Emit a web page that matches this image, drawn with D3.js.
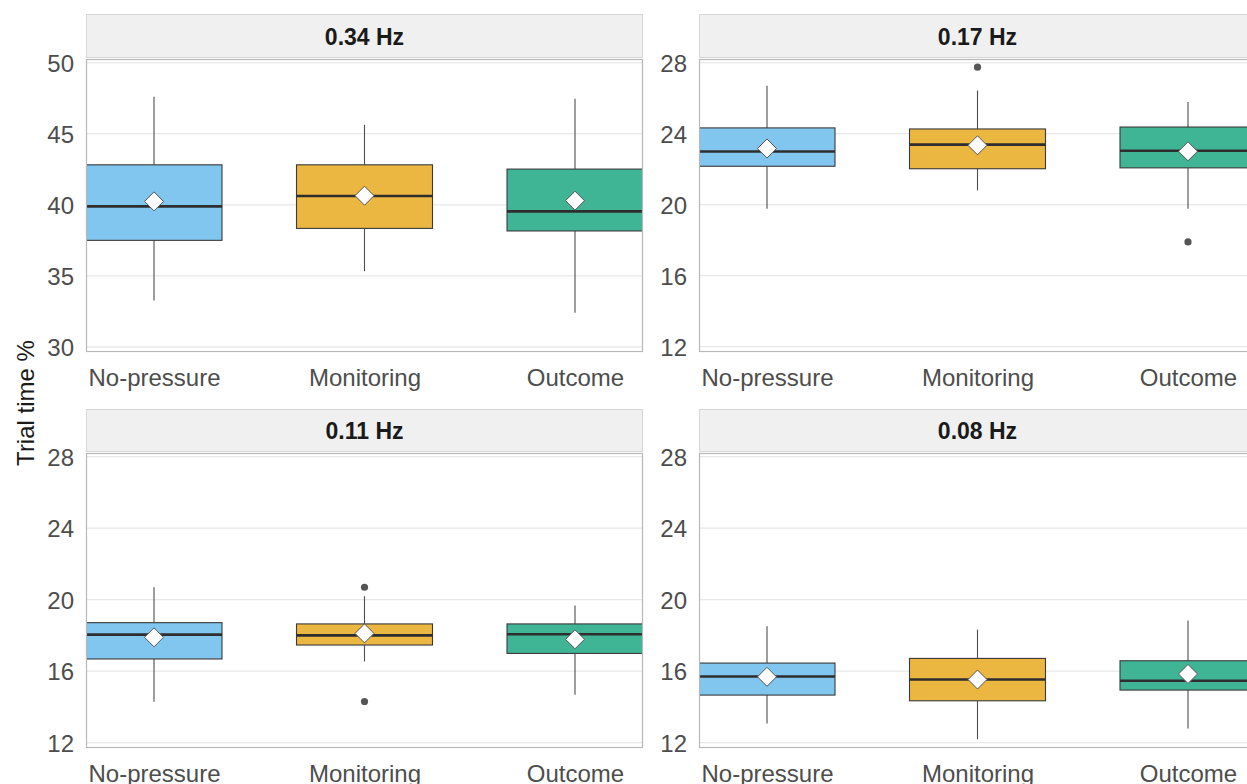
<!DOCTYPE html>
<html>
<head>
<meta charset="utf-8">
<script src="https://cdn.jsdelivr.net/npm/d3@7"></script>
<style>
  html, body { margin: 0; padding: 0; background: #fff; }
  svg { display: block; font-family: "Liberation Sans", Arial, sans-serif; }
</style>
</head>
<body>
<svg id="chart" width="1247" height="784"></svg>
<script>
// Facets (frequency bands) and conditions
const panels = ["0.34 Hz", "0.17 Hz", "0.11 Hz", "0.08 Hz"];
const categories = ["No-pressure", "Monitoring", "Outcome"];
const colors = ["#80C6EE", "#ECB740", "#40B595"];

// Box statistics per panel, one value per condition
const whiskerLow  = [[33.27, 35.33, 32.41], [19.77, 20.80, 19.77], [14.28, 16.54, 14.68], [13.07, 12.19, 12.79]];
const q1          = [[37.50, 38.34, 38.16], [22.16, 22.02, 22.07], [16.68, 17.46, 16.99], [14.66, 14.34, 14.94]];
const median      = [[39.89, 40.62, 39.54], [22.99, 23.38, 23.03], [18.04, 18.00, 18.06], [15.70, 15.53, 15.46]];
const q3          = [[42.81, 42.81, 42.51], [24.32, 24.26, 24.37], [18.71, 18.64, 18.64], [16.45, 16.71, 16.58]];
const whiskerHigh = [[47.60, 45.62, 47.46], [26.69, 26.43, 25.78], [20.69, 20.19, 19.67], [18.51, 18.32, 18.83]];
const means       = [[40.24, 40.64, 40.29], [23.16, 23.34, 23.00], [17.89, 18.11, 17.78], [15.68, 15.53, 15.84]];
const outliers    = [[[], [], []], [[], [27.74], [17.90]], [[], [20.69, 14.30], []], [[], [], []]];

// Axis ticks and limits
const ticksWide = [30, 35, 40, 45, 50];
const ticksNarrow = [12, 16, 20, 24, 28];
const yLimits = [[29.65, 50.25], [11.7, 28.2], [11.7, 28.2], [11.7, 28.2]];
const yTicks = [ticksWide, ticksNarrow, ticksNarrow, ticksNarrow];
const yTitle = "Trial time %";

const svg = d3.select("#chart");

// Facet grid layout
const colX = [86, 699];
const panelW = 557;
const rows = [
  { stripTop: 14, stripH: 44, top: 59, h: 293 },
  { stripTop: 409, stripH: 43, top: 453, h: 295 }
];
const boxW = 136;

panels.forEach((name, p) => {
  const r = rows[Math.floor(p / 2)];
  const x0 = colX[p % 2];
  const g = svg.append("g");

  const x = d3.scalePoint().domain(categories)
    .range([x0 + boxW / 2, x0 + panelW - boxW / 2]);
  const y = d3.scaleLinear().domain(yLimits[p]).range([r.top + r.h, r.top]);

  // strip
  g.append("rect")
    .attr("x", x0 + 0.5).attr("y", r.stripTop + 0.5)
    .attr("width", panelW - 1).attr("height", r.stripH - 1)
    .attr("fill", "#F0F0F0").attr("stroke", "#D6D6D6").attr("stroke-width", 1);
  g.append("text")
    .attr("x", x0 + panelW / 2).attr("y", r.stripTop + r.stripH / 2 + 8.5)
    .attr("text-anchor", "middle")
    .attr("font-size", 23).attr("font-weight", "bold").attr("fill", "#1A1A1A")
    .text(name);

  // panel background
  g.append("rect")
    .attr("x", x0).attr("y", r.top).attr("width", panelW).attr("height", r.h)
    .attr("fill", "#fff");

  // gridlines
  g.append("g").selectAll("line").data(yTicks[p]).join("line")
    .attr("x1", x0).attr("x2", x0 + panelW)
    .attr("y1", d => y(d)).attr("y2", d => y(d))
    .attr("stroke", "#E8E8E8").attr("stroke-width", 1.3);

  // y axis labels
  const yAxis = d3.axisLeft(y).tickValues(yTicks[p]).tickSize(0).tickPadding(12);
  const ya = g.append("g").attr("transform", `translate(${x0},0)`).call(yAxis);
  ya.select(".domain").remove();
  ya.selectAll("text").attr("font-size", 24).attr("fill", "#4D4D4D")
    .attr("font-family", "Liberation Sans, Arial, sans-serif").attr("dy", "0.36em");

  // x axis labels
  const xAxis = d3.axisBottom(x).tickSize(0).tickPadding(17);
  const xa = g.append("g").attr("transform", `translate(0,${r.top + r.h})`).call(xAxis);
  xa.select(".domain").remove();
  xa.selectAll("text").attr("font-size", 24).attr("fill", "#4D4D4D")
    .attr("font-family", "Liberation Sans, Arial, sans-serif").attr("dy", "0.71em");

  // boxes
  const clip = "clip-" + p;
  svg.append("clipPath").attr("id", clip).append("rect")
    .attr("x", x0).attr("y", r.top).attr("width", panelW).attr("height", r.h);
  const marks = g.append("g").attr("clip-path", `url(#${clip})`);

  categories.forEach((c, i) => {
    const cx = x(c);
    const b = marks.append("g");
    b.append("line").attr("x1", cx).attr("x2", cx)
      .attr("y1", y(whiskerHigh[p][i])).attr("y2", y(q3[p][i]))
      .attr("stroke", "#4D4D4D").attr("stroke-width", 1.1);
    b.append("line").attr("x1", cx).attr("x2", cx)
      .attr("y1", y(q1[p][i])).attr("y2", y(whiskerLow[p][i]))
      .attr("stroke", "#4D4D4D").attr("stroke-width", 1.1);
    b.append("rect")
      .attr("x", cx - boxW / 2).attr("width", boxW)
      .attr("y", y(q3[p][i])).attr("height", y(q1[p][i]) - y(q3[p][i]))
      .attr("fill", colors[i]).attr("stroke", "#3A3A3A").attr("stroke-width", 1.1);
    b.append("line").attr("x1", cx - boxW / 2).attr("x2", cx + boxW / 2)
      .attr("y1", y(median[p][i])).attr("y2", y(median[p][i]))
      .attr("stroke", "#2E2E2E").attr("stroke-width", 2.6);
    b.selectAll("circle").data(outliers[p][i]).join("circle")
      .attr("cx", cx).attr("cy", d => y(d)).attr("r", 3.6)
      .attr("fill", "#555");
    const my = y(means[p][i]);
    const s = 9.5;
    b.append("path")
      .attr("d", `M${cx},${my - s}L${cx + s},${my}L${cx},${my + s}L${cx - s},${my}Z`)
      .attr("fill", "#fff").attr("stroke", "#555").attr("stroke-width", 1);
  });

  // panel border
  g.append("rect")
    .attr("x", x0 + 0.5).attr("y", r.top + 0.5).attr("width", panelW - 1).attr("height", r.h - 1)
    .attr("fill", "none").attr("stroke", "#B8B8B8").attr("stroke-width", 1.2);
});

// shared y-axis title
svg.append("text")
  .attr("transform", "translate(34,403) rotate(-90)")
  .attr("text-anchor", "middle")
  .attr("font-size", 24).attr("fill", "#1A1A1A")
  .text(yTitle);
</script>
</body>
</html>
